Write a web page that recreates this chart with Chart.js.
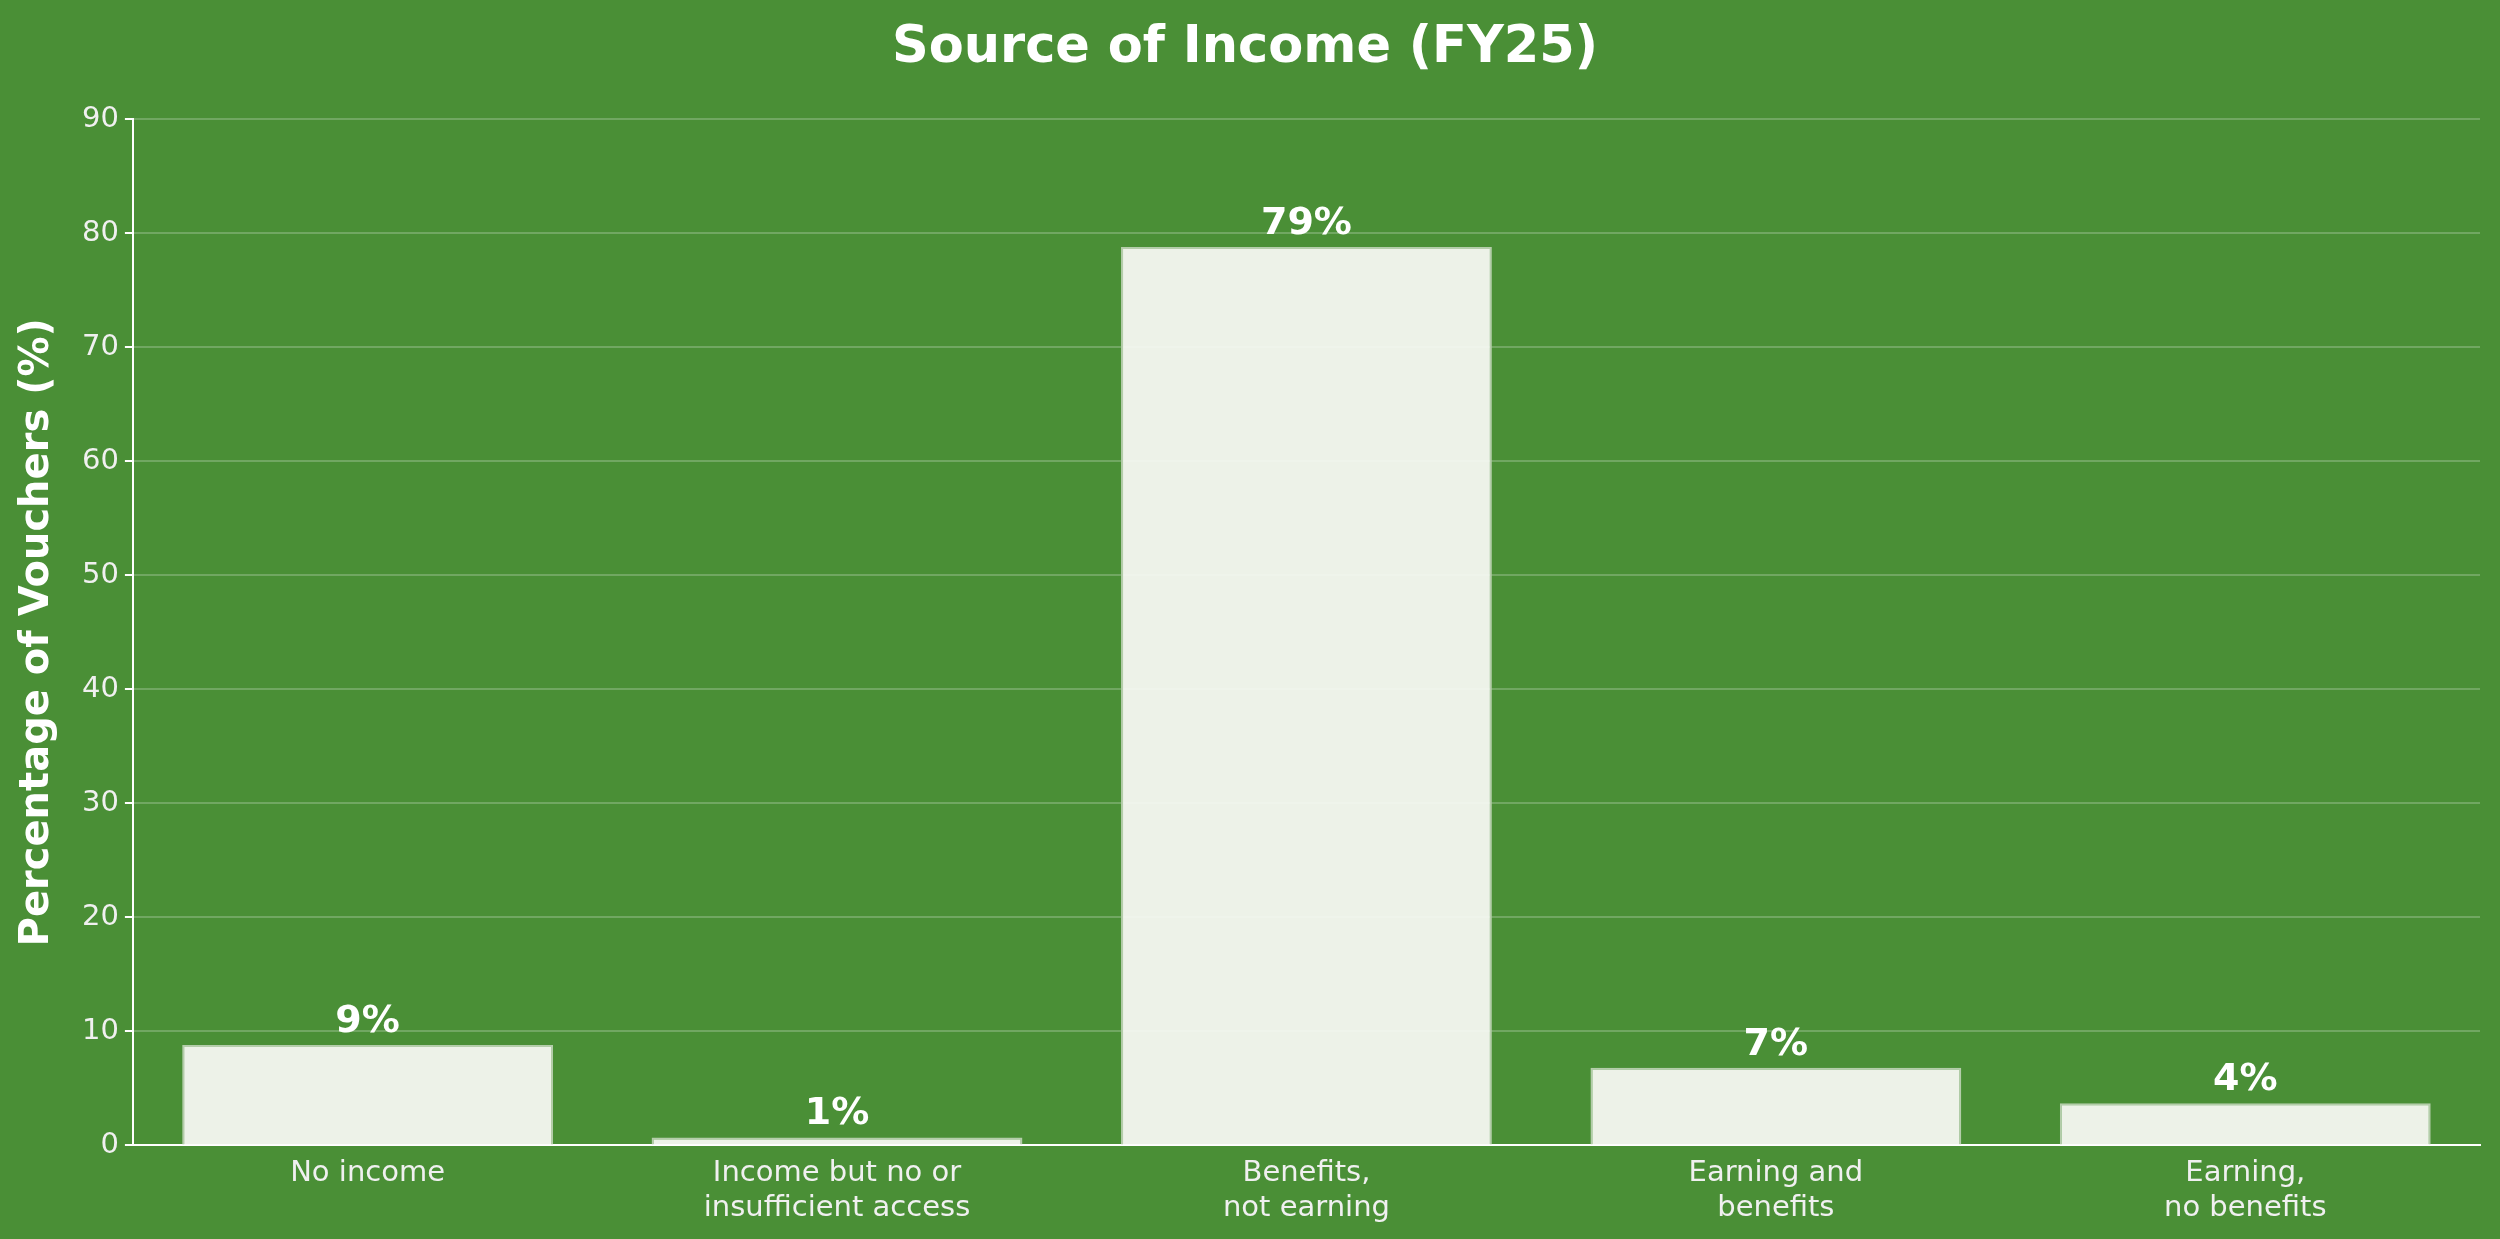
<!DOCTYPE html>
<html><head><meta charset="utf-8">
<script src="https://cdn.jsdelivr.net/npm/chart.js@4"></script>
<style>html,body{margin:0;padding:0;background:#4a8f36;}#w{width:2500px;height:1239px;}</style>
</head><body><div id="w"><canvas id="c"></canvas></div>
<script>
const categories = [["No income"],["Income but no or","insufficient access"],["Benefits,","not earning"],["Earning and","benefits"],["Earning,","no benefits"]];
const values = [8.8, 0.7, 78.8, 6.8, 3.7];
const valueLabels = ["9%","1%","79%","7%","4%"];
const yTicks = [0,10,20,30,40,50,60,70,80,90];
const F = "'DejaVu Sans', sans-serif";
const labelPlugin = {
  id:'lbl',
  afterDatasetsDraw(chart){
    const ctx = chart.ctx, meta = chart.getDatasetMeta(0);
    ctx.save(); ctx.fillStyle='#ffffff'; ctx.font='bold 38px '+F;
    ctx.textAlign='center'; ctx.textBaseline='bottom';
    meta.data.forEach((b,i)=>ctx.fillText(valueLabels[i], b.x, b.y-4));
    ctx.restore();
  }
};
new Chart(document.getElementById('c'),{
  type:'bar',
  data:{labels:categories,datasets:[{data:values,backgroundColor:'rgba(245,248,242,0.95)',borderColor:'rgba(180,205,170,1)',borderWidth:2,barPercentage:0.79,categoryPercentage:1}]},
  options:{
    responsive:true,maintainAspectRatio:false,animation:false,
    layout:{padding:{left:10,right:20,top:10,bottom:10}},
    plugins:{legend:{display:false},tooltip:{enabled:false},
      title:{display:true,text:'Source of Income (FY25)',color:'#ffffff',font:{family:F,size:51,weight:'bold'},padding:{top:8,bottom:40}}},
    scales:{
      x:{grid:{display:false,drawTicks:true},border:{color:'#ffffff',width:2},
        ticks:{color:'#f0f0f0',font:{family:F,size:29},maxRotation:0,autoSkip:false}},
      y:{min:0,max:90,afterBuildTicks:s=>{s.ticks=yTicks.map(v=>({value:v}));},
        grid:{color:'rgba(255,255,255,0.22)',lineWidth:2,drawTicks:true,tickColor:'#ffffff',tickLength:8},
        border:{color:'#ffffff',width:2},
        ticks:{color:'#f0f0f0',font:{family:F,size:29},padding:6},
        title:{display:true,text:'Percentage of Vouchers (%)',color:'#ffffff',font:{family:F,size:40,weight:'bold'},padding:{bottom:14}}}
    }
  },
  plugins:[labelPlugin]
});
</script></body></html>
